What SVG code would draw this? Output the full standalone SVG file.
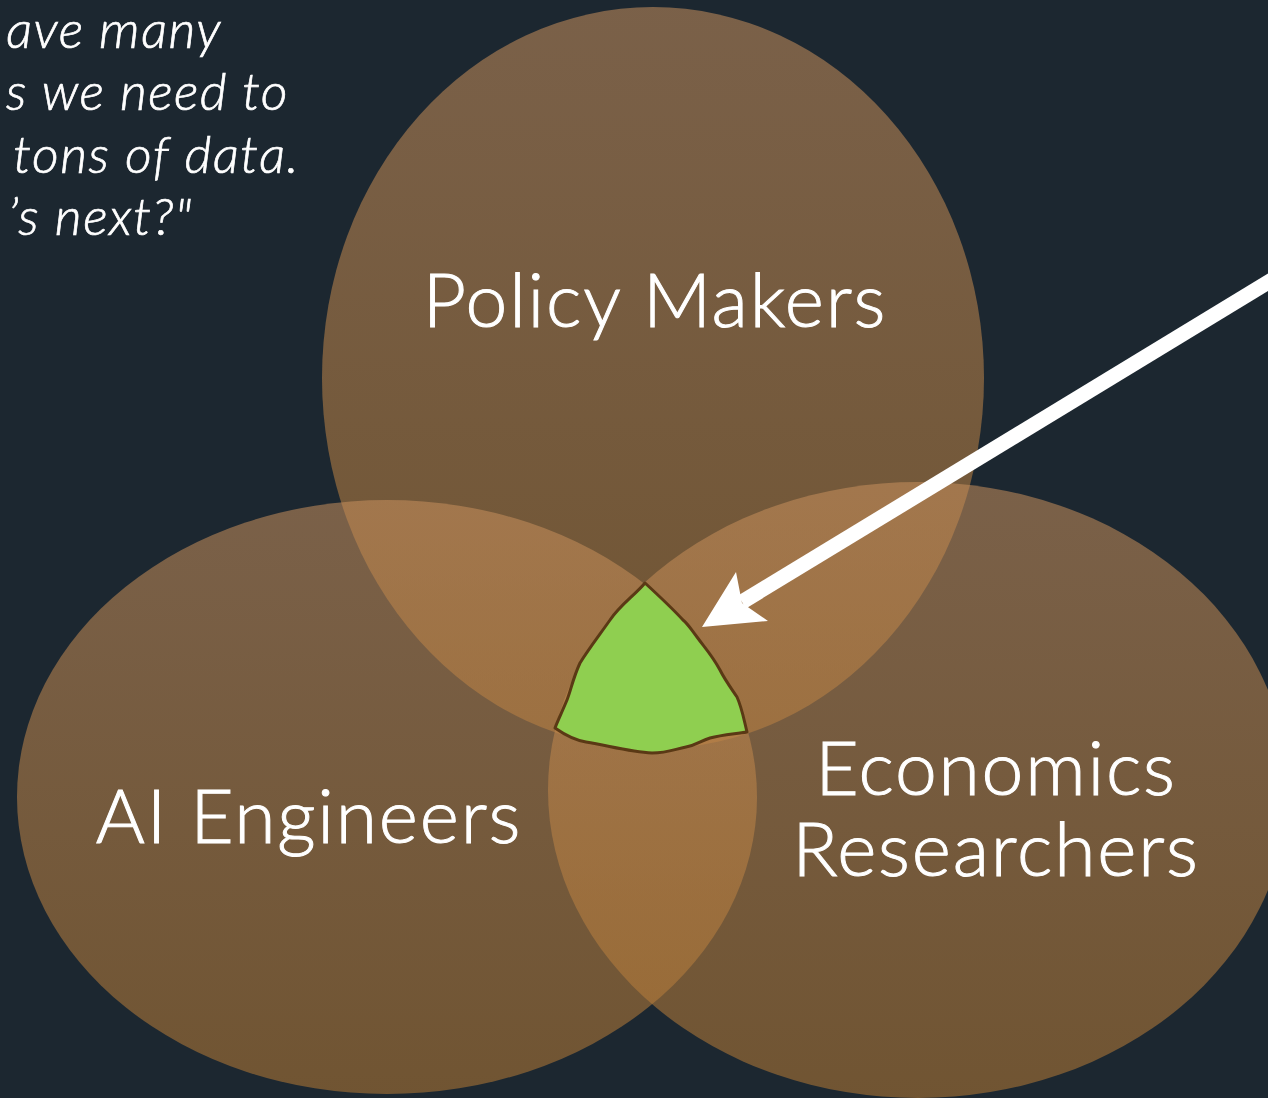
<svg xmlns="http://www.w3.org/2000/svg" width="1268" height="1098" viewBox="0 0 1268 1098">
<defs>
<linearGradient id="gTop" x1="0" y1="0" x2="0" y2="1">
<stop offset="0" stop-color="#c8905d"/>
<stop offset="1" stop-color="#b67a34"/>
</linearGradient>
<linearGradient id="gL" x1="0" y1="0" x2="0" y2="1">
<stop offset="0" stop-color="#c8905d"/>
<stop offset="1" stop-color="#b67a34"/>
</linearGradient>
<style>
.set{fill-opacity:0.55}
.lbl{font-family:"Lato","Open Sans",sans-serif;font-weight:300;font-size:75px;letter-spacing:1.8px;fill:#ffffff;stroke:#ffffff;stroke-width:1;text-anchor:middle}
.quote{font-family:"Lato","Open Sans",sans-serif;font-weight:300;font-style:italic;font-size:52px;letter-spacing:1.5px;fill:#ffffff;stroke:#ffffff;stroke-width:0.7;text-anchor:end}
</style>
</defs>
<rect x="0" y="0" width="1268" height="1098" fill="#1c2730"/>
<g id="quote">
<text class="quote" x="222" y="48">ave many</text>
<text class="quote" x="289" y="110">s we need to</text>
<text class="quote" x="300" y="173">tons of data.</text>
<text class="quote" x="193" y="235">’s next?"</text>
</g>
<g id="policy-makers">
<ellipse class="set" cx="653" cy="378" rx="331" ry="371" fill="url(#gTop)"/>
</g>
<g id="ai-engineers">
<ellipse class="set" cx="387" cy="797" rx="370" ry="297" fill="url(#gL)"/>
</g>
<g id="economics-researchers">
<ellipse class="set" cx="918" cy="790" rx="370" ry="308" fill="url(#gL)"/>
</g>
<g id="labels">
<text class="lbl" x="655" y="327">Policy Makers</text>
<text class="lbl" x="309" y="843">AI Engineers</text>
<text class="lbl" x="996" y="795">Economics</text>
<text class="lbl" x="996" y="876">Researchers</text>
</g>
<g id="intersection">
<path d="M645,583 C635,595 620,605 610,620 C598,637 588,650 580,663 C573,678 571,690 567,700 C562,712 558,720 555,728 C565,735 574,740 586,742 C610,746 630,752 652,753 C668,753 675,749 686,747 C697,745 700,741 710,738 C722,735 735,734 747,732 C744,720 742,708 737,697 C731,688 725,680 720,670 C712,655 705,648 697,637 C690,628 688,624 683,620 C672,608 658,595 645,583 Z" fill="#8fcf50" stroke="#5a3915" stroke-width="3" stroke-linejoin="round"/>
</g>
<g id="connectors">
<line x1="1275" y1="278" x2="742" y2="602" stroke="#ffffff" stroke-width="15"/>
<polygon points="702,627 736,572 742,603 768,621" fill="#ffffff"/>
</g>
</svg>
